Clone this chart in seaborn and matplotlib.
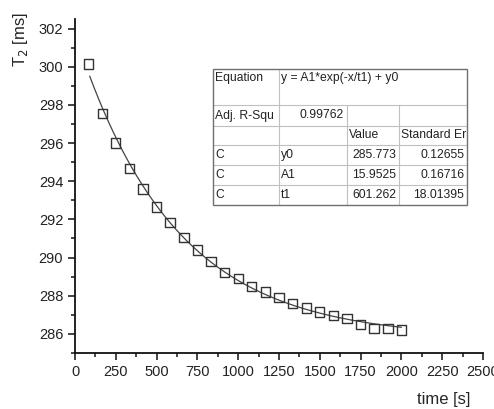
import numpy as np
import pandas as pd
import matplotlib
matplotlib.use("Agg")
import matplotlib.pyplot as plt
from matplotlib.lines import Line2D
from matplotlib.ticker import MultipleLocator
import seaborn as sns

time_s = [83, 167, 250, 333, 417, 500, 583, 667, 750, 833, 917, 1000,
          1083, 1167, 1250, 1333, 1417, 1500, 1583, 1667, 1750, 1833, 1917, 2000]
t2_ms = [300.15, 297.55, 296.0, 294.65, 293.6, 292.65, 291.85, 291.05,
         290.4, 289.8, 289.2, 288.9, 288.5, 288.2, 287.9, 287.6, 287.35,
         287.15, 286.95, 286.8, 286.5, 286.3, 286.3, 286.2]

# fit parameters y = A1*exp(-x/t1) + y0
fit_names = ["y0", "A1", "t1"]
fit_values = ["285.773", "15.9525", "601.262"]
fit_errors = ["0.12655", "0.16716", "18.01395"]
adj_r2 = "0.99762"
y0, A1, t1 = [float(v) for v in fit_values]

df = pd.DataFrame({"time": time_s, "T2": t2_ms})
x_fit = np.linspace(90, 2000, 200)
fit_df = pd.DataFrame({"time": x_fit, "T2": A1 * np.exp(-x_fit / t1) + y0})

sns.set_style("ticks")
plt.rcParams["font.family"] = ["Liberation Sans", "DejaVu Sans"]
plt.rcParams["xtick.direction"] = "out"
plt.rcParams["ytick.direction"] = "out"

W, H = 494, 409
fig = plt.figure(figsize=(W / 100, H / 100), dpi=100)
ax = fig.add_axes([75 / W, 56 / H, 408 / W, 334 / H])

sns.lineplot(data=fit_df, x="time", y="T2", ax=ax, color="#444444", linewidth=0.9)
sns.scatterplot(data=df, x="time", y="T2", ax=ax, marker="s", s=45,
                facecolor="none", edgecolor="#333333", linewidth=1.0, zorder=3)

ax.set_xlim(0, 2500)
ax.set_ylim(285, 302.5)
ax.xaxis.set_major_locator(MultipleLocator(250))
ax.xaxis.set_minor_locator(MultipleLocator(125))
ax.yaxis.set_major_locator(MultipleLocator(2))
ax.yaxis.set_minor_locator(MultipleLocator(1))
ax.tick_params(which="major", length=5, width=1.2, labelsize=10.5, colors="#222222")
ax.tick_params(which="minor", length=3, width=1.2)
for s in ["top", "right"]:
    ax.spines[s].set_visible(False)
for s in ["left", "bottom"]:
    ax.spines[s].set_linewidth(1.3)
    ax.spines[s].set_color("#111111")

ax.set_xlabel("")
ax.set_ylabel("")
fig.text(20 / W, 1 - 12 / H, "T$_2$ [ms]", rotation=90, ha="center", va="top", fontsize=12)
fig.text(470 / W, 2 / H, "time [s]", ha="right", va="bottom", fontsize=12)

# results table, drawn in figure pixels
def fx(px):
    return px / W

def fy(py):
    return 1 - py / H

cols = [213, 279, 347, 399, 467]
rows = [69, 105, 126, 145, 165, 185, 205]
grid = "#c0c0c0"

def hline(y, x0, x1, color=grid, lw=0.8):
    fig.lines.append(Line2D([fx(x0), fx(x1)], [fy(y), fy(y)], transform=fig.transFigure,
                            color=color, linewidth=lw, zorder=10))

def vline(x, y0_, y1_, color=grid, lw=0.8):
    fig.lines.append(Line2D([fx(x), fx(x)], [fy(y0_), fy(y1_)], transform=fig.transFigure,
                            color=color, linewidth=lw, zorder=10))

for y in rows[1:-1]:
    hline(y, cols[0], cols[-1])
vline(cols[1], rows[0], rows[-1])
for x in cols[2:-1]:
    vline(x, rows[1], rows[-1])
fig.patches.append(plt.Rectangle((fx(cols[0]), fy(rows[-1])), (cols[-1] - cols[0]) / W,
                                 (rows[-1] - rows[0]) / H, transform=fig.transFigure,
                                 fill=False, edgecolor="#707070", linewidth=1.0, zorder=11))

fs = 8.7
tc = "#222222"

def cell(r, c, s, align="left", top=False):
    if align == "left":
        x = fx(cols[c] + 2)
    else:
        x = fx(cols[c + 1] - 3)
    if top:
        y, va = fy(rows[r] + 3), "top"
    else:
        y, va = fy((rows[r] + rows[r + 1]) / 2), "center"
    fig.text(x, y, s, ha=align, va=va, fontsize=fs, color=tc, zorder=12)

cell(0, 0, "Equation", top=True)
cell(0, 1, "y = A1*exp(-x/t1) + y0", top=True)
cell(1, 0, "Adj. R-Squ")
cell(1, 1, adj_r2, align="right")
cell(2, 2, "Value")
cell(2, 3, "Standard Er")
for i, (n, v, e) in enumerate(zip(fit_names, fit_values, fit_errors)):
    cell(3 + i, 0, "C")
    cell(3 + i, 1, n)
    cell(3 + i, 2, v, align="right")
    cell(3 + i, 3, e, align="right")

fig.savefig("out.png", dpi=100)
